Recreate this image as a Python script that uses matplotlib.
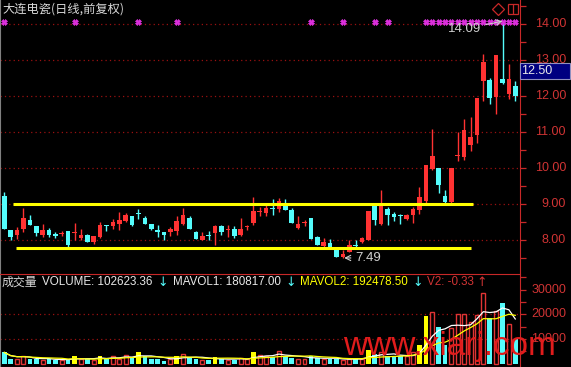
import numpy as np
import pandas as pd
import matplotlib
matplotlib.use('Agg')
import matplotlib.pyplot as plt
from matplotlib.patches import Rectangle

# Fonts: Arial-like for numbers, CJK fallback for the Chinese labels
plt.rcParams['font.family'] = ['Liberation Sans', 'Noto Sans CJK SC', 'DejaVu Sans']
CJK = ['Noto Sans CJK SC', 'DejaVu Sans']

# Daily candles
opens = [9.22, 8.26, 8.12, 8.29, 8.54, 8.37, 8.12, 8.26, 8.17, 8.15,
         8.23, 8.18, 8.05, 8.12, 7.93, 8.07, 8.42, 8.38, 8.44, 8.52,
         8.65, 8.75, 8.60, 8.44, 8.26, 8.22, 8.20, 8.23, 8.44, 8.61,
         8.21, 8.00, 8.12, 8.18, 8.37, 8.28, 8.30, 8.12, 8.35, 8.46,
         8.77, 8.74, 8.88, 8.86, 9.00, 8.83, 8.33, 8.47, 8.60, 8.07,
         7.81, 7.91, 7.77, 7.53, 7.66, 7.86, 7.93, 8.00, 8.93, 8.44,
         8.86, 8.72, 8.68, 8.58, 8.70, 8.84, 9.07, 9.97, 10.00, 9.23,
         9.04, 10.33, 10.30, 10.65, 10.92, 12.42, 12.45, 11.98, 12.47, 12.07,
         12.27]
highs = [9.33, 8.26, 8.34, 8.89, 8.68, 8.37, 8.44, 8.32, 8.22, 8.24,
         8.23, 8.46, 8.30, 8.17, 8.10, 8.50, 8.42, 8.58, 8.77, 8.75,
         8.66, 8.86, 8.65, 8.44, 8.40, 8.22, 8.35, 8.66, 8.89, 8.66,
         8.24, 8.21, 8.24, 8.40, 8.40, 8.40, 8.37, 8.60, 8.42, 9.20,
         8.92, 9.00, 9.13, 9.17, 9.13, 8.88, 8.65, 8.56, 8.60, 8.10,
         8.05, 8.01, 7.77, 7.70, 7.98, 7.98, 8.07, 8.81, 8.98, 9.39,
         8.92, 8.77, 8.72, 8.72, 8.92, 9.48, 10.09, 11.08, 10.00, 9.37,
         10.00, 10.99, 11.36, 11.42, 11.96, 13.17, 12.50, 13.15, 14.09, 12.90,
         12.43]
lows = [8.30, 8.00, 8.03, 8.21, 8.40, 8.10, 8.08, 8.08, 8.05, 8.10,
        7.79, 7.98, 8.00, 7.93, 7.89, 8.05, 8.25, 8.31, 8.26, 8.50,
        8.39, 8.58, 8.44, 8.27, 8.08, 8.00, 8.10, 8.13, 8.40, 8.31,
        8.03, 7.98, 8.00, 7.84, 8.13, 8.08, 8.05, 8.10, 8.27, 8.42,
        8.67, 8.67, 8.69, 8.77, 8.84, 8.46, 8.31, 8.38, 8.01, 7.84,
        7.78, 7.75, 7.52, 7.49, 7.66, 7.75, 7.90, 8.00, 8.42, 8.42,
        8.42, 8.52, 8.44, 8.55, 8.45, 8.72, 9.00, 9.93, 9.29, 9.00,
        9.00, 10.20, 10.22, 10.48, 10.68, 11.87, 11.77, 11.50, 12.33, 11.93,
        11.87]
closes = [8.30, 8.07, 8.28, 8.61, 8.40, 8.18, 8.26, 8.12, 8.10, 8.17,
          7.84, 8.22, 8.14, 7.93, 8.10, 8.42, 8.39, 8.49, 8.56, 8.70,
          8.40, 8.72, 8.44, 8.29, 8.22, 8.12, 8.29, 8.51, 8.70, 8.31,
          8.03, 8.10, 8.10, 8.37, 8.21, 8.30, 8.10, 8.30, 8.37, 8.79,
          8.79, 8.89, 8.86, 9.07, 8.84, 8.46, 8.43, 8.48, 8.01, 7.84,
          7.93, 7.75, 7.52, 7.61, 7.84, 7.82, 8.04, 8.81, 8.54, 9.02,
          8.70, 8.63, 8.66, 8.70, 8.86, 9.18, 10.09, 10.34, 9.53, 9.04,
          10.00, 10.37, 11.06, 10.87, 11.96, 12.96, 11.95, 13.15, 12.36, 12.47,
          12.00]
volumes = [4500, 1900, 1900, 2900, 1900, 1800, 1500, 1800, 1500, 1500,
           1500, 3100, 1900, 1800, 1500, 3100, 1900, 3100, 1900, 3500,
           2600, 4500, 2900, 1900, 1800, 1200, 1800, 2900, 3900, 2500,
           1900, 1500, 1500, 2600, 1800, 1500, 1500, 2200, 1800, 4800,
           3500, 3000, 2800, 5000, 2900, 2400, 1800, 1800, 2900, 2400,
           1800, 1800, 1800, 1500, 1800, 2000, 2000, 5400, 3800, 4500,
           2900, 2900, 2900, 2900, 4500, 7500, 19400, 21000, 15000, 7500,
           14300, 20100, 20100, 16700, 19700, 28700, 18400, 21500, 24600, 16000,
           10000]

# Days whose volume bar is yellow, and days with a magenta signal on top
yellow_days = [11, 15, 21, 27, 33, 39, 57, 65, 66]
signal_days = [0, 11, 21, 27, 48, 53, 58, 60] + list(range(66, 81))

# Box lines (price level, first day, last day)
upper_level, upper_from, upper_to = 8.98, 1.4, 73.4
lower_level, lower_from, lower_to = 7.77, 1.8, 73.0

price_ticks = [8, 9, 10, 11, 12, 13, 14]
vol_ticks = [10000, 20000, 30000]
last_label = 12.50

# Colours of the trading software
RED = '#ff3232'
CYAN = '#54fcfc'
YEL = '#ffff00'
AXRED = '#c82828'
GRID = '#9a1010'

W, H = 571, 367
fig = plt.figure(figsize=(W / 100, H / 100), dpi=100, facecolor='black')

split = 274      # pixel row of the panel separator
axis_x = 519.5   # pixel column of the right axis

ax = fig.add_axes([0, (H - split) / H, axis_x / W, split / H], facecolor='black')
ax2 = fig.add_axes([0, 0, axis_x / W, (H - split) / H], facecolor='black')

days = np.arange(len(closes))
o = np.array(opens)
c = np.array(closes)
up = c >= o

# Price panel -------------------------------------------------------------
for p in price_ticks:
    ax.axhline(p, color=GRID, lw=0.9, ls=(0, (1, 2.5)), zorder=1)

col = np.where(up, RED, CYAN)
ax.vlines(days, lows, highs, colors=col, lw=1, zorder=2)
body = np.maximum(np.abs(c - o), 0.025)
ax.bar(days, body, bottom=np.minimum(o, c), width=0.72, color=col, lw=0, zorder=3)

# Yellow box lines
ax.hlines([upper_level], upper_from, upper_to, colors=YEL, lw=2.2, zorder=4)
ax.hlines([lower_level], lower_from, lower_to, colors=YEL, lw=2.2, zorder=4)

# Magenta signals on the top row
ax.plot(signal_days, [1 - 22 / split] * len(signal_days), ls='none', marker='X',
        ms=4.2, mfc='#e030e0', mec='#e030e0', mew=0.5,
        transform=ax.get_xaxis_transform(), zorder=5)

# High and low marks
hi = int(np.argmax(highs))
lo = int(np.argmin(lows))
ax.annotate(f'{highs[hi]:.2f}', xy=(hi, highs[hi]), xytext=(465, H - 29),
            textcoords='figure pixels', ha='center', va='center', color='#d0d0d0',
            fontsize=9.5, arrowprops=dict(arrowstyle='->', color='#d0d0d0', lw=0.8,
                                          shrinkA=1, shrinkB=0), zorder=6)
ax.annotate(f'{lows[lo]:.2f}', xy=(lo, lows[lo]), xytext=(355, H - 258),
            textcoords='figure pixels', ha='left', va='center', color='#d0d0d0',
            fontsize=9.5, arrowprops=dict(arrowstyle='->', color='#d0d0d0', lw=0.8,
                                          shrinkA=1, shrinkB=1), zorder=6)

ax.set_xlim(-0.673, 80.66)
ax.set_ylim(11 - (split - 132) / 35.88, 11 + 132 / 35.88)

# Volume panel ------------------------------------------------------------
for v in vol_ticks[:2]:
    ax2.axhline(v, color=GRID, lw=0.9, ls=(0, (1, 2.5)), zorder=1)

for i, v in enumerate(volumes):
    if i in yellow_days:
        ax2.bar(i, v, width=0.72, color=YEL, lw=0, zorder=2)
    elif up[i]:
        ax2.bar(i, v, width=0.62, facecolor='none', edgecolor='#e03434', lw=1, zorder=2)
    else:
        ax2.bar(i, v, width=0.72, color=CYAN, lw=0, zorder=2)

vol = pd.Series(volumes)
ax2.plot(days, vol.rolling(5, min_periods=1).mean(), color='white', lw=0.9, zorder=3)
ax2.plot(days, vol.rolling(10, min_periods=1).mean(), color=YEL, lw=0.9, zorder=3)

ax2.set_xlim(-0.673, 80.66)
ax2.set_ylim(-(3.5 / 24.6) * 10000, (363.5 - split) / 24.6 * 10000)

# Axes frames and ticks -----------------------------------------------------
for a in (ax, ax2):
    a.spines['top'].set_visible(False)
    a.spines['left'].set_color('#808080')
    a.spines['right'].set_color(AXRED)
    a.spines['bottom'].set_color(AXRED)
    a.set_xticks([])
    a.yaxis.tick_right()
    a.tick_params(axis='y', colors=AXRED, length=4, width=0.9, labelright=False)
ax.spines['bottom'].set_visible(False)
ax2.spines['top'].set_visible(True)
ax2.spines['top'].set_color(AXRED)

ax.set_yticks(np.arange(7.5, 14.51, 0.5))
ax2.set_yticks(np.arange(5000, 35001, 5000))

# Right side labels, right aligned
lab_x = 566 / axis_x
for p in price_ticks:
    ax.text(lab_x, p, f'{p:.2f}', transform=ax.get_yaxis_transform(), ha='right',
            va='center', color='#d03434', fontsize=9, clip_on=False)
for v in vol_ticks:
    ax2.text(lab_x, v, f'{v}', transform=ax2.get_yaxis_transform(), ha='right',
             va='center', color='#d03434', fontsize=9, clip_on=False)

# Current price box
fig.patches.append(Rectangle((axis_x / W, 1 - 78.5 / H), 50.5 / W, 15.5 / H,
                             transform=fig.transFigure, facecolor='#000080',
                             edgecolor='#9090c0', lw=0.8))
fig.text(521 / W, 1 - 71 / H, f'{last_label:.2f}', color='#e8e8e8', fontsize=9,
         ha='left', va='center')

# Small icons top right
ax.plot([497.7 / axis_x], [1 - 9 / split], marker='D', ms=6, mfc='none', mec=AXRED,
        mew=0.9, transform=ax.transAxes)
ax.plot([512.5 / axis_x], [1 - 9 / split], marker='s', ms=7, mfc='none', mec=AXRED,
        mew=0.9, transform=ax.transAxes)
ax.plot([512.5 / axis_x], [1 - 9 / split], marker='|', ms=7, mec=AXRED,
        mew=0.9, transform=ax.transAxes)

# Title and volume legend row
fig.text(2 / W, 1 - 9 / H, '大连电瓷(日线,前复权)', color='#d8d8d8', fontsize=8.8,
         family=CJK, ha='left', va='center')

row = 1 - 282 / H
fig.text(2 / W, row, '成交量', color='#d8d8d8', fontsize=8.6, family=CJK, va='center')
fig.text(42 / W, row, 'VOLUME: 102623.36', color='#e8e8e8', fontsize=8.4, va='center')
fig.text(157 / W, row, '↓', color=CYAN, fontsize=9, family=['DejaVu Sans'], va='center')
fig.text(173 / W, row, 'MAVOL1: 180817.00', color='#e8e8e8', fontsize=8.4, va='center')
fig.text(285 / W, row, '↓', color=CYAN, fontsize=9, family=['DejaVu Sans'], va='center')
fig.text(300 / W, row, 'MAVOL2: 192478.50', color=YEL, fontsize=8.4, va='center')
fig.text(412 / W, row, '↓', color=CYAN, fontsize=9, family=['DejaVu Sans'], va='center')
fig.text(427 / W, row, 'V2: -0.33', color='#d03434', fontsize=8.4, va='center')
fig.text(476 / W, row, '↑', color='#d03434', fontsize=9, family=['DejaVu Sans'], va='center')

# Site watermark
fig.text(343 / W, 1 - 347 / H, 'www.xiarj.com', color='#e01c1c', fontsize=24,
         ha='left', va='center')

fig.savefig('out.png', dpi=100, facecolor='black')
